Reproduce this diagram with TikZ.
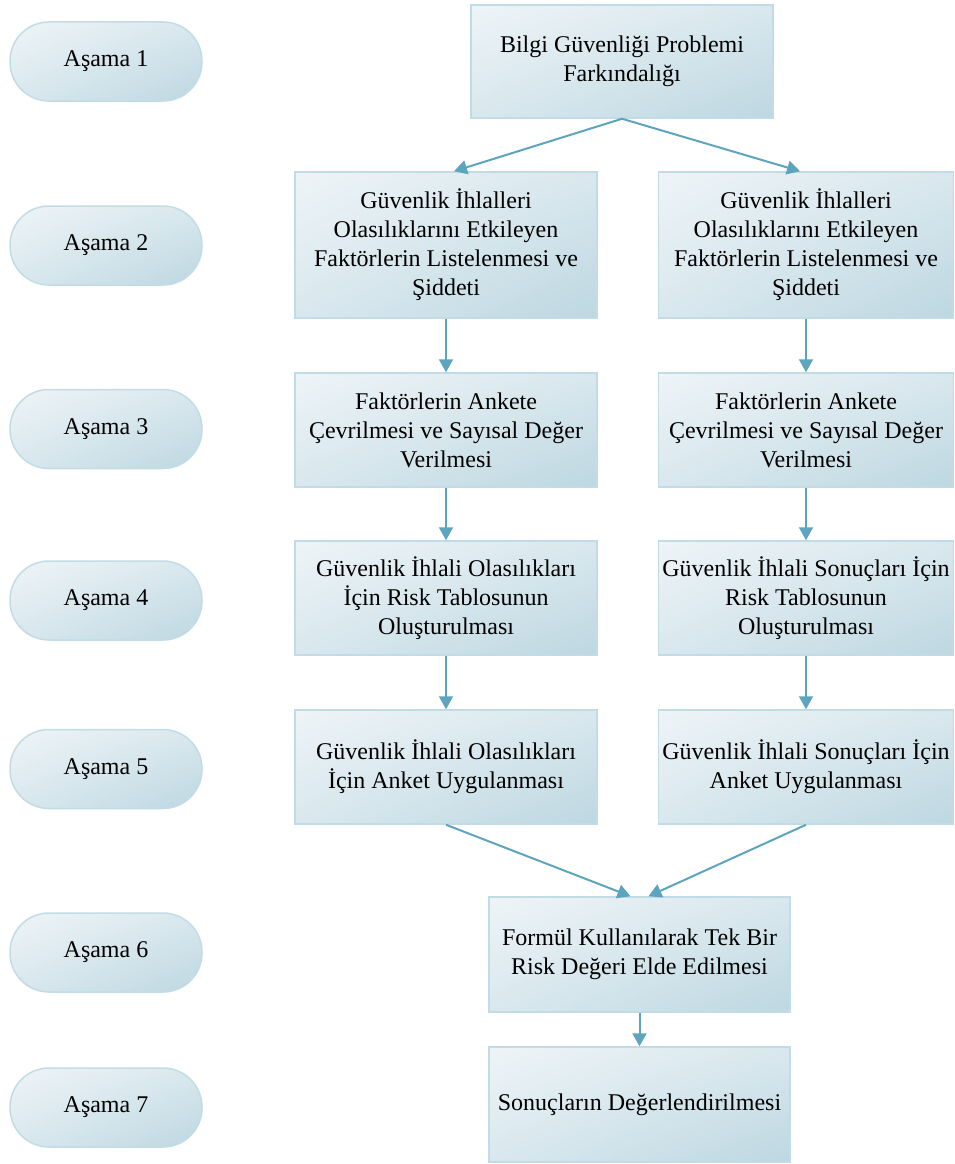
\documentclass[tikz,border=0pt]{standalone}
\usepackage{fontspec}
\setmainfont{Liberation Serif}
\usetikzlibrary{arrows.meta,shadings}
\definecolor{boxlight}{HTML}{EEF4F7}
\definecolor{boxmid}{HTML}{D9E8EE}
\definecolor{boxdark}{HTML}{BDD7E1}
\definecolor{boxedge}{HTML}{C2DCE6}
\definecolor{arrowc}{HTML}{5DA5BF}
\tikzset{
  stepshade/.style={upper left=boxlight, lower right=boxdark, upper right=boxmid, lower left=boxmid},
  flowbox/.style={rectangle, stepshade, draw=boxedge, line width=1.5pt, inner sep=0pt,
    align=center, font=\fontsize{24}{29}\selectfont, minimum height=114pt},
  stagebox/.style={rectangle, rounded corners=39pt, stepshade, draw=boxedge, line width=1.5pt,
    inner sep=0pt, minimum width=192pt, minimum height=79pt, font=\fontsize{24}{29}\selectfont},
  flowarrow/.style={draw=arrowc, line width=2pt, -{Triangle[length=13pt,width=14pt]}}
}
\begin{document}
\begin{tikzpicture}[x=1pt,y=-1pt]
\useasboundingbox (0,0) rectangle (954,1164);
% stages
\node[stagebox] (s1) at (106,61.5) {Aşama 1};
\node[stagebox] (s2) at (106,245.5) {Aşama 2};
\node[stagebox] (s3) at (106,429) {Aşama 3};
\node[stagebox] (s4) at (106,600.5) {Aşama 4};
\node[stagebox] (s5) at (106,769) {Aşama 5};
\node[stagebox] (s6) at (106,952.5) {Aşama 6};
\node[stagebox] (s7) at (106,1107.5) {Aşama 7};
% boxes
\node[flowbox, minimum width=302pt, minimum height=113pt] (top) at (622,61.5) {Bilgi Güvenliği Problemi\\Farkındalığı};
\node[flowbox, minimum width=302pt, minimum height=146pt] (l2) at (446,245) {Güvenlik İhlalleri\\Olasılıklarını Etkileyen\\Faktörlerin Listelenmesi ve\\Şiddeti};
\node[flowbox, minimum width=295pt, minimum height=146pt] (r2) at (806,245) {Güvenlik İhlalleri\\Olasılıklarını Etkileyen\\Faktörlerin Listelenmesi ve\\Şiddeti};
\node[flowbox, minimum width=302pt] (l3) at (446,430) {Faktörlerin Ankete\\Çevrilmesi ve Sayısal Değer\\Verilmesi};
\node[flowbox, minimum width=295pt] (r3) at (806,430) {Faktörlerin Ankete\\Çevrilmesi ve Sayısal Değer\\Verilmesi};
\node[flowbox, minimum width=302pt] (l4) at (446,598) {Güvenlik İhlali Olasılıkları\\İçin Risk Tablosunun\\Oluşturulması};
\node[flowbox, minimum width=295pt] (r4) at (806,598) {Güvenlik İhlali Sonuçları İçin\\Risk Tablosunun\\Oluşturulması};
\node[flowbox, minimum width=302pt] (l5) at (446,767) {Güvenlik İhlali Olasılıkları\\İçin Anket Uygulanması};
\node[flowbox, minimum width=295pt] (r5) at (806,767) {Güvenlik İhlali Sonuçları İçin\\Anket Uygulanması};
\node[flowbox, minimum width=301pt, minimum height=115pt] (b6) at (639.5,954.5) {Formül Kullanılarak Tek Bir\\Risk Değeri Elde Edilmesi};
\node[flowbox, minimum width=301pt, minimum height=115pt] (b7) at (639.5,1104.5) {Sonuçların Değerlendirilmesi};
% arrows
\draw[flowarrow] (top.south) -- ([xshift=8pt]l2.north);
\draw[flowarrow] (top.south) -- ([xshift=-6pt]r2.north);
\draw[flowarrow] (l2) -- (l3);
\draw[flowarrow] (r2) -- (r3);
\draw[flowarrow] (l3) -- (l4);
\draw[flowarrow] (r3) -- (r4);
\draw[flowarrow] (l4) -- (l5);
\draw[flowarrow] (r4) -- (r5);
\draw[flowarrow] (l5.south) -- ([xshift=-9pt]b6.north);
\draw[flowarrow] (r5.south) -- ([xshift=9pt]b6.north);
\draw[flowarrow] (b6) -- (b7);
\end{tikzpicture}
\end{document}
